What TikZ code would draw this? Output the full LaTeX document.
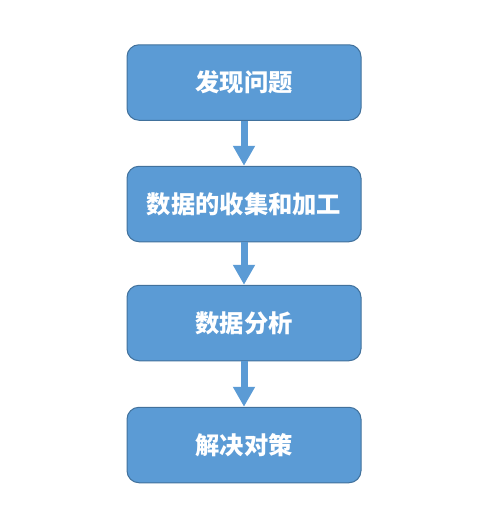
\documentclass[tikz,border=0pt]{standalone}
\usepackage{fontspec}
\newfontfamily\cjk{Noto Sans CJK SC}
\usetikzlibrary{arrows.meta}
\definecolor{boxfill}{HTML}{5B9BD5}
\definecolor{boxline}{HTML}{41719C}
\tikzset{
  stepbox/.style={draw=boxline, line width=1pt, fill=boxfill, rounded corners=12pt,
    minimum width=234pt, minimum height=75.5pt, inner sep=0pt,
    text=white, font=\cjk\bfseries\fontsize{24.3pt}{28pt}\selectfont},
  flowarrow/.style={draw=boxfill, line width=7pt,
    -{Triangle[width=21pt 0 0, length=20pt 0 0, fill=boxfill]}}
}
\begin{document}
\begin{tikzpicture}[x=1pt,y=-1pt]
  \useasboundingbox (0,0) rectangle (487,528);
  \node[stepbox] (s1) at (244,82.5) {发现问题};
  \node[stepbox] (s2) at (244,204) {数据的收集和加工};
  \node[stepbox] (s3) at (244,323) {数据分析};
  \node[stepbox] (s4) at (244,445) {解决对策};
  \draw[flowarrow] (s1.south) -- (s2.north);
  \draw[flowarrow] (s2.south) -- (s3.north);
  \draw[flowarrow] (s3.south) -- (s4.north);
\end{tikzpicture}
\end{document}
